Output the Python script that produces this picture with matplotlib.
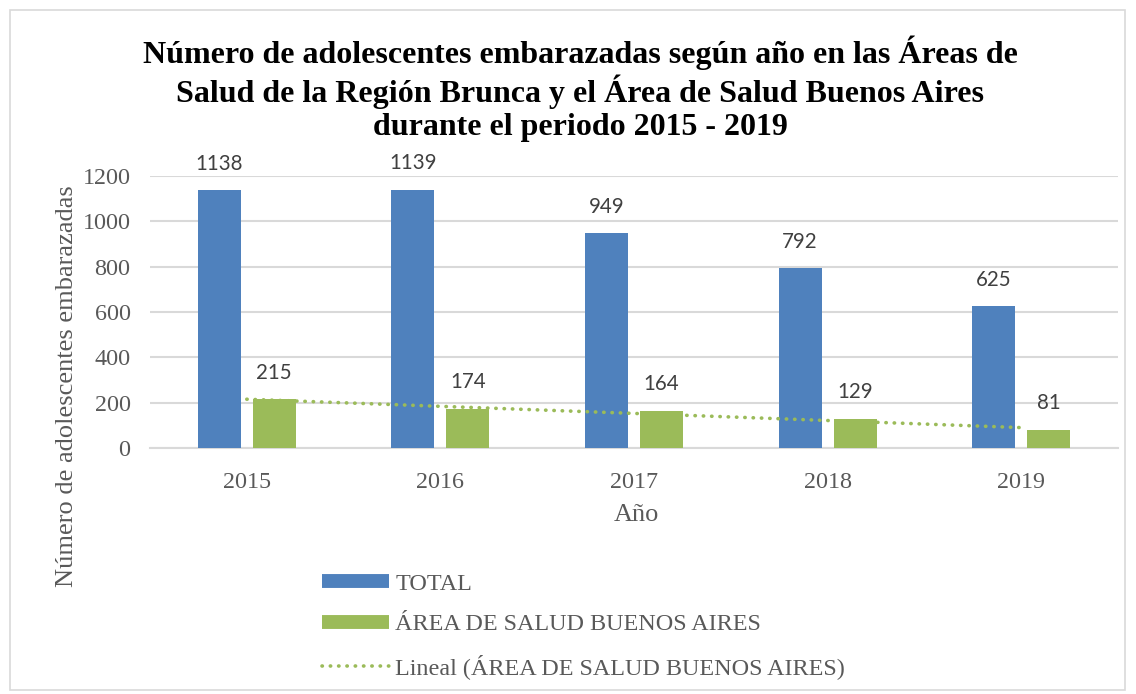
import matplotlib
matplotlib.use("Agg")
import matplotlib.pyplot as plt
import numpy as np
from matplotlib.lines import Line2D
from matplotlib.patches import Rectangle

years = ["2015", "2016", "2017", "2018", "2019"]
total = [1138, 1139, 949, 792, 625]
buenos_aires = [215, 174, 164, 129, 81]

title = ("Número de adolescentes embarazadas según año en las Áreas de\n"
         "Salud de la Región Brunca y el Área de Salud Buenos Aires\n"
         "durante el periodo 2015 - 2019")
ylabel = "Número de adolescentes embarazadas"
xlabel = "Año"
legend_labels = ["TOTAL", "ÁREA DE SALUD BUENOS AIRES",
                 "Lineal (ÁREA DE SALUD BUENOS AIRES)"]

BLUE = "#4f81bd"
GREEN = "#9bbb59"
GRID = "#d9d9d9"
TXT = "#595959"
SERIF = ["Liberation Serif", "DejaVu Serif"]
SANS = ["Lato", "DejaVu Sans"]

fig = plt.figure(figsize=(11.36, 6.94), dpi=100)
W, H = 1136, 694
ax = fig.add_axes([150 / W, 1 - 448 / H, (1118 - 150) / W, (448 - 176) / H])

x = np.arange(len(years))
bw = 0.222
off = 0.142
ax.bar(x - off, total, width=bw, color=BLUE, zorder=3)
ax.bar(x + off, buenos_aires, width=bw, color=GREEN, zorder=3)

# linear trend
coef = np.polyfit(x, buenos_aires, 1)
ax.plot(x, np.polyval(coef, x), linestyle=(0, (0.1, 2.2)), color=GREEN,
        linewidth=2.6, dash_capstyle="round", zorder=4)

for xi, v in zip(x, total):
    ax.annotate(str(v), (xi - off, v), xytext=(0, 19), textcoords="offset points",
                ha="center", va="center", fontsize=14.8, family=SANS, color="#404040")
for xi, v in zip(x, buenos_aires):
    ax.annotate(str(v), (xi + off, v), xytext=(0, 19), textcoords="offset points",
                ha="center", va="center", fontsize=14.8, family=SANS, color="#404040")

ax.set_xlim(-0.5, len(years) - 0.5)
ax.set_ylim(0, 1200)
ax.set_yticks(range(0, 1201, 200))
ax.set_xticks(x)
ax.set_xticklabels(years)
ax.grid(axis="y", color=GRID, linewidth=1.5, zorder=0)
ax.set_axisbelow(True)
for s in ["top", "right", "left"]:
    ax.spines[s].set_visible(False)
ax.spines["bottom"].set_color(GRID)
ax.spines["bottom"].set_linewidth(1.5)
ax.tick_params(axis="both", length=0, labelsize=17.4, labelcolor=TXT)
ax.tick_params(axis="x", pad=17)
ax.tick_params(axis="y", pad=14)
for lab in ax.get_xticklabels() + ax.get_yticklabels():
    lab.set_family(SERIF)

fig.text(580 / W, 1 - 89 / H, title, ha="center", va="center", fontsize=23,
         fontweight="bold", family=SERIF, color="black", linespacing=1.18)
fig.text(67 / W, 1 - 386 / H, ylabel, rotation=90, ha="center", va="center",
         fontsize=19, family=SERIF, color=TXT)
fig.text(636 / W, 1 - 515 / H, xlabel, ha="center", va="center",
         fontsize=19, family=SERIF, color=TXT)

handles = [
    Line2D([], [], color=BLUE, linewidth=10, solid_capstyle="butt"),
    Line2D([], [], color=GREEN, linewidth=10, solid_capstyle="butt"),
    Line2D([], [], color=GREEN, linewidth=2.6, linestyle=(0, (0.1, 2.2)),
           dash_capstyle="round"),
]
leg = fig.legend(handles, legend_labels, loc="upper left",
                 bbox_to_anchor=(312 / W, 1 - 563 / H), frameon=False,
                 prop={"family": SERIF, "size": 17.4}, handlelength=2.8,
                 handletextpad=0.25, labelspacing=0.78, borderaxespad=0)
for t in leg.get_texts():
    t.set_color(TXT)

fig.patches.append(Rectangle((10 / W, 4 / H), (1125 - 10) / W, (684 - 4) / H,
                             transform=fig.transFigure, fill=False,
                             edgecolor=GRID, linewidth=1.2))

fig.savefig("out.png", dpi=100, facecolor="white")
